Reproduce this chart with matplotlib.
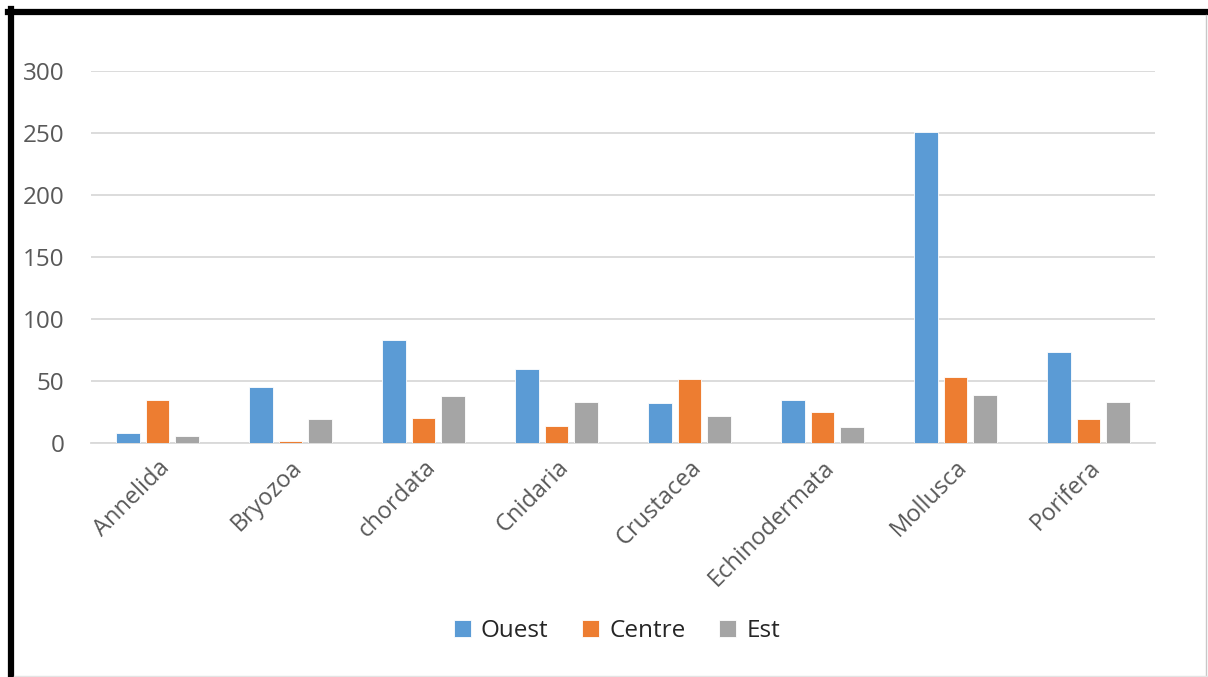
import numpy as np
import matplotlib.pyplot as plt
from matplotlib.lines import Line2D

# Species counts per phylum and zone
phyla = ['Annelida', 'Bryozoa', 'chordata', 'Cnidaria', 'Crustacea',
         'Echinodermata', 'Mollusca', 'Porifera']
ouest = [8, 45, 83, 60, 32, 35, 251, 73]
centre = [35, 2, 20, 14, 52, 25, 53, 19]
est = [6, 19, 38, 33, 22, 13, 39, 33]

series = [('Ouest', ouest, '#5b9bd5'),
          ('Centre', centre, '#ed7d31'),
          ('Est', est, '#a5a5a5')]

plt.rcParams['font.family'] = ['Open Sans', 'DejaVu Sans']

fig = plt.figure(figsize=(12.08, 6.77), dpi=100)
ax = fig.add_axes([91 / 1208, 234 / 677, 1064 / 1208, 372 / 677])

x = np.arange(len(phyla))
width = 0.175
step = 0.222
for i, (name, vals, col) in enumerate(series):
    ax.bar(x + (i - 1) * step, vals, width, color=col, label=name,
           edgecolor='white', linewidth=0.6, zorder=3)

ax.set_xlim(-0.5, len(phyla) - 0.5)
ax.set_ylim(0, 300)
ax.set_yticks(range(0, 301, 50))
ax.yaxis.grid(True, color='#d9d9d9', linewidth=1.3, zorder=0)
ax.set_axisbelow(True)
for s in ax.spines.values():
    s.set_visible(False)
ax.spines['bottom'].set_visible(True)
ax.spines['bottom'].set_color('#d9d9d9')
ax.spines['bottom'].set_linewidth(1.3)

ax.tick_params(axis='both', length=0, labelcolor='#595959')
ax.tick_params(axis='y', labelsize=17.5, pad=19)
ax.set_xticks(x)
ax.set_xticklabels(phyla, rotation=45, ha='right', rotation_mode='anchor')
ax.tick_params(axis='x', labelsize=17, pad=9)

leg = fig.legend(loc='center', bbox_to_anchor=(617 / 1208, 1 - 631 / 677),
                 ncol=3, frameon=False, fontsize=17.5, handlelength=0.7,
                 handleheight=0.7, handletextpad=0.4, columnspacing=1.4)
for t in leg.get_texts():
    t.set_color('#262626')

# Frame around the chart: heavy black on the left and top, thin grey elsewhere
fig.add_artist(Line2D([11 / 1208, 11 / 1208], [0, 1 - 9 / 677],
                      transform=fig.transFigure, color='black', linewidth=4.5,
                      solid_capstyle='projecting'))
fig.add_artist(Line2D([8 / 1208, 1], [1 - 12 / 677, 1 - 12 / 677],
                      transform=fig.transFigure, color='black', linewidth=4.5))
fig.add_artist(Line2D([1206 / 1208, 1206 / 1208], [0, 1 - 15 / 677],
                      transform=fig.transFigure, color='#c8c8c8', linewidth=1))
fig.add_artist(Line2D([14 / 1208, 1], [1 / 677, 1 / 677],
                      transform=fig.transFigure, color='#e4e4e4', linewidth=1))

fig.savefig('out.png', dpi=100)
